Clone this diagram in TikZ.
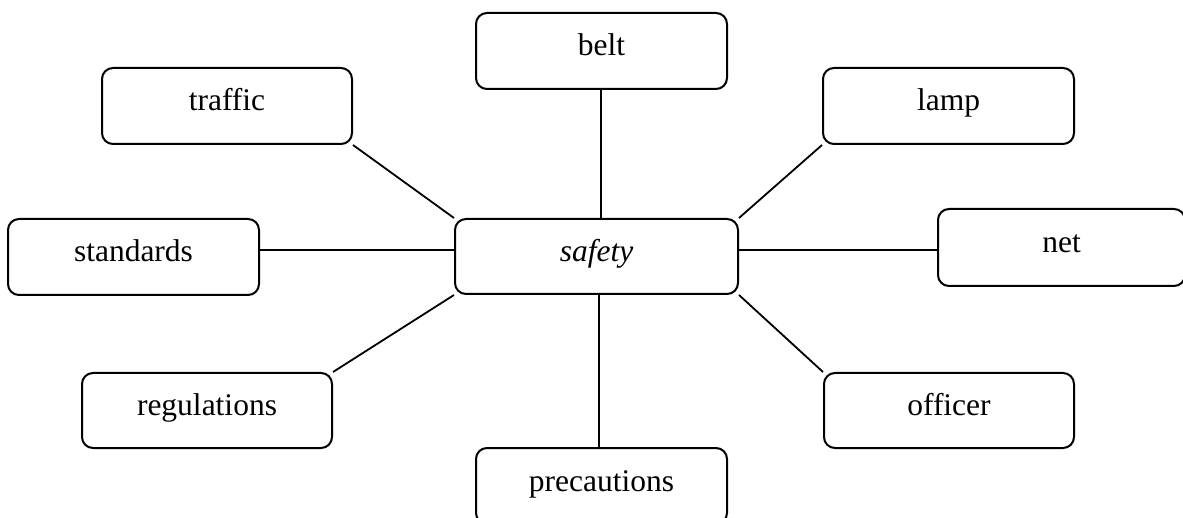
\documentclass[tikz,border=0pt]{standalone}
\usepackage{fontspec}
\setmainfont{Liberation Serif}
\begin{document}
\begin{tikzpicture}[x=1pt,y=-1pt,
  termbox/.style={draw, line width=2pt, rounded corners=11pt,
    minimum width=251pt, minimum height=76pt, inner sep=0pt,
    text height=20pt, text depth=10pt,
    font=\fontsize{31.5}{36}\selectfont},
  link/.style={line width=1.8pt}]
  \useasboundingbox (0,0) rectangle (1183,518);
  \clip (0,0) rectangle (1183,518);

  % central term
  \node[termbox, minimum width=283pt, minimum height=75pt, font=\fontsize{31.5}{36}\selectfont\itshape]
    (safety) at (596.5,256.5) {safety};

  % surrounding terms
  \node[termbox] (belt)        at (601.5,51)    {belt};
  \node[termbox, minimum width=250pt] (traffic) at (227,106) {traffic};
  \node[termbox] (lamp)        at (948.5,106)   {lamp};
  \node[termbox] (standards)   at (133.5,257)   {standards};
  \node[termbox, minimum width=247pt, minimum height=77pt] (net) at (1061.5,247.5) {net};
  \node[termbox, minimum width=250pt, minimum height=75pt] (regulations) at (207,410.5) {regulations};
  \node[termbox, minimum width=250pt, minimum height=75pt] (officer) at (949,410.5) {officer};
  \node[termbox] (precautions) at (601.5,486)   {precautions};

  % level of the horizontal spokes
  \coordinate (hline) at (0,250);

  % spokes
  \draw[link] ([xshift=-0.6pt]belt.south) -- ([xshift=-0.6pt]belt.south |- safety.north);
  \draw[link] ([xshift=-2.5pt]precautions.north) -- ([xshift=-2.5pt]precautions.north |- safety.south);
  \draw[link] (standards.east |- hline) -- (safety.west |- hline);
  \draw[link] (net.west |- hline) -- (safety.east |- hline);
  \draw[link] (traffic.south east) -- (safety.north west);
  \draw[link] (lamp.south west) -- (safety.north east);
  \draw[link] (regulations.north east) -- (safety.south west);
  \draw[link] (officer.north west) -- (safety.south east);
\end{tikzpicture}
\end{document}
